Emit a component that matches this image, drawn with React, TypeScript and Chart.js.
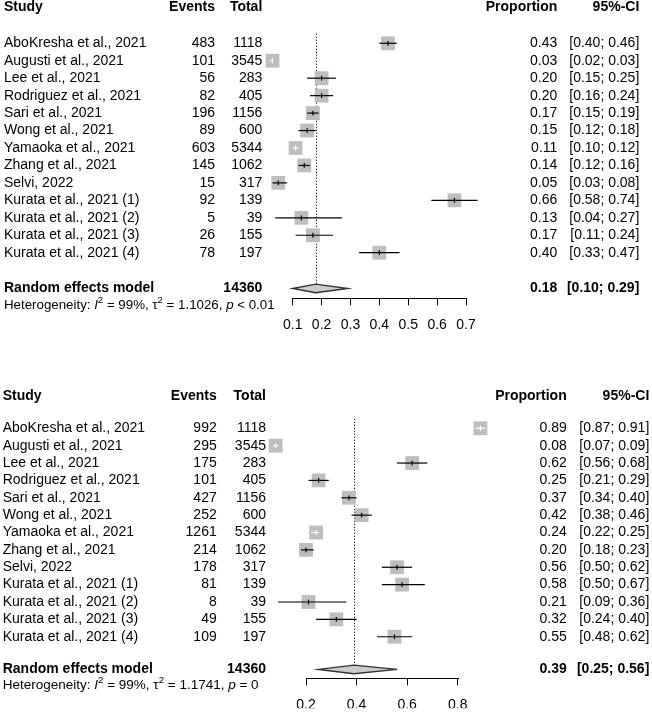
import React, { useEffect, useRef } from "react";
import { Chart, registerables } from "chart.js";

Chart.register(...registerables);

// ---------------- DATA ----------------
const studies = [
  "AboKresha et al., 2021",
  "Augusti et al., 2021",
  "Lee et al., 2021",
  "Rodriguez et al., 2021",
  "Sari et al., 2021",
  "Wong et al., 2021",
  "Yamaoka et al., 2021",
  "Zhang et al., 2021",
  "Selvi, 2022",
  "Kurata et al., 2021 (1)",
  "Kurata et al., 2021 (2)",
  "Kurata et al., 2021 (3)",
  "Kurata et al., 2021 (4)",
];
const totals = [1118, 3545, 283, 405, 1156, 600, 5344, 1062, 317, 139, 39, 155, 197];
const grandTotal = 14360;

// Panel A (top)
const eventsA = [483, 101, 56, 82, 196, 89, 603, 145, 15, 92, 5, 26, 78];
const propA = [0.43, 0.03, 0.2, 0.2, 0.17, 0.15, 0.11, 0.14, 0.05, 0.66, 0.13, 0.17, 0.4];
const lowerA = [0.4, 0.02, 0.15, 0.16, 0.15, 0.12, 0.1, 0.12, 0.03, 0.58, 0.04, 0.11, 0.33];
const upperA = [0.46, 0.03, 0.25, 0.24, 0.19, 0.18, 0.12, 0.16, 0.08, 0.74, 0.27, 0.24, 0.47];
const summaryA = [0.18, 0.1, 0.29]; // estimate, lower, upper
const ticksA = [0.1, 0.2, 0.3, 0.4, 0.5, 0.6, 0.7];
const rangeA = [0, 0.8];
const hetA: [string, string][] = [
  ["Heterogeneity: ", "n"], ["I", "i"], ["2", "sup"], [" = 99%, ", "n"],
  ["\u03c4", "n"], ["2", "sup"], [" = 1.1026, ", "n"], ["p", "i"], [" < 0.01", "n"],
];

// Panel B (bottom)
const eventsB = [992, 295, 175, 101, 427, 252, 1261, 214, 178, 81, 8, 49, 109];
const propB = [0.89, 0.08, 0.62, 0.25, 0.37, 0.42, 0.24, 0.2, 0.56, 0.58, 0.21, 0.32, 0.55];
const lowerB = [0.87, 0.07, 0.56, 0.21, 0.34, 0.38, 0.22, 0.18, 0.5, 0.5, 0.09, 0.24, 0.48];
const upperB = [0.91, 0.09, 0.68, 0.29, 0.4, 0.46, 0.25, 0.23, 0.62, 0.67, 0.36, 0.4, 0.62];
const summaryB = [0.39, 0.25, 0.56];
const ticksB = [0.2, 0.4, 0.6, 0.8];
const rangeB = [0, 1.0];
const hetB: [string, string][] = [
  ["Heterogeneity: ", "n"], ["I", "i"], ["2", "sup"], [" = 99%, ", "n"],
  ["\u03c4", "n"], ["2", "sup"], [" = 1.1741, ", "n"], ["p", "i"], [" = 0", "n"],
];

// ---------------- LAYOUT / STYLE ----------------
const FAMILY = '"Liberation Sans", Arial, Helvetica, sans-serif';
Chart.defaults.font.family = FAMILY;

const PAD_TOP = 12;

const layoutA = {
  canvasTop: 0, height: 352, axisLeft: 292.7, axisRight: 466, axisY: 298.3,
  row0: 43.3, rowPx: 17.45, xAxisH: 36, headerRow: -2.06, summaryRow: 14.05, hetRow: 15.04,
  cols: { study: 4, events: 215, total: 262.3, prop: 557.3, ci: 639.3 }, hetSize: 13.3,
};
const layoutB = {
  canvasTop: 352, height: 360, axisLeft: 306, axisRight: 457.7, axisY: 326.3,
  row0: 76.3, rowPx: 17.37, xAxisH: 30, headerRow: -1.88, summaryRow: 13.88, hetRow: 14.82,
  cols: { study: 2.7, events: 216.7, total: 266, prop: 566.7, ci: 649.3 }, hetSize: 13.5,
};

const SQUARE = 13.8;
const SQUARE_COLOR = "#bebebe";
const INSIDE_LIMIT = 10.8;
const AXIS_COLOR = "#000000";

type PanelData = {
  events: number[]; prop: number[]; lower: number[]; upper: number[];
  summary: number[]; ticks: number[]; range: number[]; het: [string, string][];
};

const panelA: PanelData = { events: eventsA, prop: propA, lower: lowerA, upper: upperA, summary: summaryA, ticks: ticksA, range: rangeA, het: hetA };
const panelB: PanelData = { events: eventsB, prop: propB, lower: lowerB, upper: upperB, summary: summaryB, ticks: ticksB, range: rangeB, het: hetB };

function ForestPanel({ data, lay }: { data: PanelData; lay: typeof layoutA }) {
  const ref = useRef<HTMLCanvasElement>(null);

  useEffect(() => {
    const canvas = ref.current!;
    const W = 652;
    const ymin = (PAD_TOP - lay.row0) / lay.rowPx;
    const ymax = (lay.axisY - lay.row0) / lay.rowPx;
    const tMin = data.ticks[0];
    const tMax = data.ticks[data.ticks.length - 1];
    const slope = (lay.axisRight - lay.axisLeft) / (tMax - tMin);
    const areaLeft = lay.axisLeft - (tMin - data.range[0]) * slope;
    const areaRight = lay.axisRight + (data.range[1] - tMax) * slope;

    const ciWidthPx = (chart: any, i: number) => {
      const xs = chart.scales.x;
      return xs.getPixelForValue(data.upper[i]) - xs.getPixelForValue(data.lower[i]);
    };

    const squares = data.prop.map((p, i) => ({ x: p, y: i }));
    const ciPoints: { x: number; y: number }[] = [];
    data.prop.forEach((_, i) => {
      ciPoints.push({ x: data.lower[i], y: i });
      ciPoints.push({ x: data.upper[i], y: i });
      ciPoints.push({ x: NaN, y: NaN });
    });

    const font = (w: string, s: number) => `${w} ${s}px ${FAMILY}`;

    const forestPlugin = {
      id: "forestText",
      beforeDatasetsDraw(chart: any) {
        const ctx = chart.ctx;
        const xs = chart.scales.x;
        const ys = chart.scales.y;
        const x = Math.round(xs.getPixelForValue(data.summary[0])) + 0.5;
        ctx.save();
        ctx.strokeStyle = "#111";
        ctx.lineWidth = 1;
        ctx.setLineDash([1.2, 1.8]);
        ctx.beginPath();
        ctx.moveTo(x, ys.getPixelForValue(-0.55));
        ctx.lineTo(x, ys.getPixelForValue(lay.summaryRow) - 4.3);
        ctx.stroke();
        ctx.restore();
      },
      afterDatasetsDraw(chart: any) {
        const ctx = chart.ctx;
        const xs = chart.scales.x;
        const ys = chart.scales.y;
        // summary diamond
        const yc = ys.getPixelForValue(lay.summaryRow);
        const xl = xs.getPixelForValue(data.summary[1]);
        const xe = xs.getPixelForValue(data.summary[0]);
        const xh = xs.getPixelForValue(data.summary[2]);
        const hh = 4.3;
        ctx.save();
        ctx.beginPath();
        ctx.moveTo(xl, yc);
        ctx.lineTo(xe, yc - hh);
        ctx.lineTo(xh, yc);
        ctx.lineTo(xe, yc + hh);
        ctx.closePath();
        ctx.fillStyle = "#cccccc";
        ctx.fill();
        ctx.strokeStyle = "#333333";
        ctx.lineWidth = 1.4;
        ctx.stroke();
        ctx.restore();
      },
      afterDraw(chart: any) {
        const ctx = chart.ctx;
        const xs = chart.scales.x;
        const ys = chart.scales.y;
        const c = lay.cols;
        const Y = (r: number) => ys.getPixelForValue(r);
        ctx.save();
        // axis line between first and last tick
        const ay = Math.round(chart.chartArea.bottom) + 0.5;
        ctx.strokeStyle = AXIS_COLOR;
        ctx.lineWidth = 1;
        ctx.beginPath();
        ctx.moveTo(Math.round(xs.getPixelForValue(tMin)), ay);
        ctx.lineTo(Math.round(xs.getPixelForValue(tMax)) + 1, ay);
        ctx.stroke();

        ctx.fillStyle = "#000";
        ctx.textBaseline = "middle";
        const txt = (s: string, x: number, y: number, align: CanvasTextAlign) => {
          ctx.textAlign = align;
          ctx.fillText(s, x, y);
        };
        // headers
        ctx.font = font("bold", 14);
        const hy = Y(lay.headerRow);
        txt("Study", c.study, hy, "left");
        txt("Events", c.events, hy, "right");
        txt("Total", c.total, hy, "right");
        txt("Proportion", c.prop, hy, "right");
        txt("95%-CI", c.ci, hy, "right");
        // study rows
        ctx.font = font("normal", 14);
        studies.forEach((s, i) => {
          const y = Y(i);
          txt(s, c.study, y, "left");
          txt(String(data.events[i]), c.events, y, "right");
          txt(String(totals[i]), c.total, y, "right");
          txt(data.prop[i].toFixed(2), c.prop, y, "right");
          txt(`[${data.lower[i].toFixed(2)}; ${data.upper[i].toFixed(2)}]`, c.ci, y, "right");
        });
        // summary row
        ctx.font = font("bold", 14);
        const sy = Y(lay.summaryRow);
        txt("Random effects model", c.study, sy, "left");
        txt(String(grandTotal), c.total, sy, "right");
        txt(data.summary[0].toFixed(2), c.prop, sy, "right");
        txt(`[${data.summary[1].toFixed(2)}; ${data.summary[2].toFixed(2)}]`, c.ci, sy, "right");
        // heterogeneity
        const hs = lay.hetSize;
        let cx = c.study;
        const hyy = Y(lay.hetRow);
        ctx.textAlign = "left";
        for (const [t, st] of data.het) {
          let dy = 0;
          if (st === "i") ctx.font = font("italic", hs);
          else if (st === "sup") { ctx.font = font("normal", hs * 0.72); dy = -hs * 0.4; }
          else ctx.font = font("normal", hs);
          ctx.fillText(t, cx, hyy + dy);
          cx += ctx.measureText(t).width;
        }
        ctx.restore();
      },
    };

    const chart = new Chart(canvas, {
      type: "scatter",
      data: {
        datasets: [
          {
            label: "squares",
            data: squares,
            pointStyle: "rect",
            pointRadius: SQUARE / Math.SQRT2,
            pointHoverRadius: SQUARE / Math.SQRT2,
            pointBackgroundColor: SQUARE_COLOR,
            pointBorderWidth: 0,
            showLine: false,
            clip: false,
            order: 2,
          } as any,
          {
            label: "ci",
            data: ciPoints,
            showLine: true,
            spanGaps: false,
            pointRadius: 0,
            pointHoverRadius: 0,
            borderColor: "#000",
            borderWidth: 1.2,
            segment: {
              borderColor: (ctx: any) =>
                ctx.p1.x - ctx.p0.x < INSIDE_LIMIT ? "#ffffff" : "#000000",
            },
            clip: false,
            order: 1,
          } as any,
          {
            label: "estimate",
            data: squares,
            showLine: false,
            pointStyle: "line",
            pointRotation: 90,
            pointRadius: 2.4,
            pointHoverRadius: 2.4,
            pointBorderWidth: 1.2,
            pointBorderColor: (ctx: any) =>
              ciWidthPx(ctx.chart, ctx.dataIndex) < INSIDE_LIMIT ? "#ffffff" : "#000000",
            clip: false,
            order: 0,
          } as any,
        ],
      },
      options: {
        responsive: false,
        animation: false,
        events: [],
        layout: {
          padding: {
            left: areaLeft,
            right: W - areaRight,
            top: PAD_TOP,
            bottom: lay.height - lay.axisY - lay.xAxisH,
          },
        },
        plugins: { legend: { display: false }, tooltip: { enabled: false }, title: { display: false } },
        scales: {
          x: {
            type: "linear",
            min: data.range[0],
            max: data.range[1],
            afterBuildTicks: (axis: any) => {
              axis.ticks = data.ticks.map((v) => ({ value: v }));
            },
            afterFit: (axis: any) => {
              axis.height = lay.xAxisH;
            },
            ticks: {
              autoSkip: false,
              maxRotation: 0,
              minRotation: 0,
              padding: 11.3,
              color: "#000",
              font: { size: 14, family: FAMILY },
              callback: (v: any) => Number(v).toFixed(1),
            },
            grid: { drawOnChartArea: false, drawTicks: true, tickLength: 7, color: AXIS_COLOR, lineWidth: 1 },
            border: { display: false },
          },
          y: {
            type: "linear",
            display: false,
            reverse: true,
            min: ymin,
            max: ymax,
          },
        },
      } as any,
      plugins: [forestPlugin],
    });
    return () => chart.destroy();
  }, []);

  return (
    <canvas
      ref={ref}
      width={652}
      height={lay.height}
      style={{ position: "absolute", left: 0, top: lay.canvasTop, display: "block" }}
    />
  );
}

export default function App() {
  return (
    <div style={{ position: "absolute", left: 0, top: 0, width: 652, height: 712, background: "#fff" }}>
      <ForestPanel data={panelA} lay={layoutA} />
      <ForestPanel data={panelB} lay={layoutB} />
    </div>
  );
}
